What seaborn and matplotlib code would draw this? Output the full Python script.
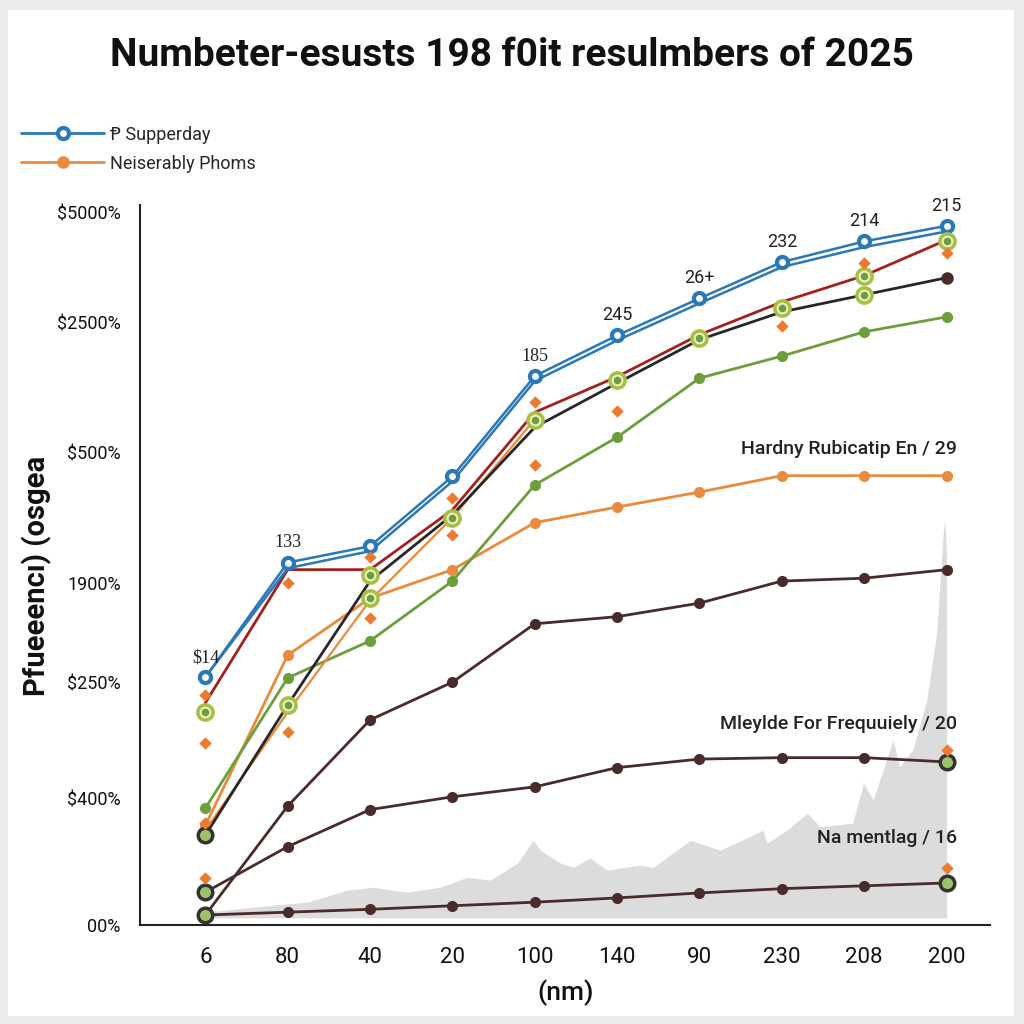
import matplotlib
matplotlib.use("Agg")
import matplotlib.pyplot as plt
import matplotlib.patches as mpatches
import numpy as np
import seaborn as sns

# categories on the x axis
x_labels = ["6", "80", "40", "20", "100", "140", "90", "230", "208", "200"]

# series values
supperday = [34.8, 50.9, 53.2, 63.0, 77.1, 82.8, 88.0, 93.1, 96.0, 98.2]
supperday_shadow = [34.8, 50.1, 52.5, 62.3, 76.4, 82.1, 87.3, 92.4, 95.2, 97.4]
neiserably = [14.0, 37.9, 45.9, 49.9, 56.5, 58.7, 60.8, 63.1, 63.1, 63.1]
orange_b = [13.3, 29.9, 45.6, 57.2, 71.0]
red_series = [31.2, 49.9, 49.9, 58.3, 72.0, 77.0, 82.9, 87.5, 91.2, 96.2]
black_series = [12.6, 30.9, 48.3, 57.6, 69.9, 76.1, 82.2, 86.1, 88.5, 90.9]
green_series = [16.4, 34.7, 39.9, 48.3, 61.8, 68.5, 76.8, 79.9, 83.3, 85.4]
brown_1 = [1.4, 16.7, 28.8, 34.1, 42.3, 43.3, 45.2, 48.3, 48.7, 49.9]
brown_2 = [4.6, 11.0, 16.2, 18.0, 19.4, 22.1, 23.3, 23.5, 23.5, 22.9]
brown_3 = [1.4, 1.8, 2.2, 2.7, 3.2, 3.8, 4.5, 5.1, 5.5, 5.9]

# value tags over the blue line
blue_tags = ["$14", "133", "185", "245", "26+", "232", "214", "215"]
blue_tag_idx = [0, 1, 4, 5, 6, 7, 8, 9]

# loose orange diamonds
diamond_x = [0, 0, 0, 0, 1, 1, 2, 2, 3, 3, 4, 4, 5, 7, 8, 9, 9, 9]
diamond_y = [32.3, 25.6, 14.3, 6.6, 48.0, 27.1, 43.1, 51.7, 60.0, 54.8, 73.5, 64.6,
             72.2, 84.1, 93.0, 94.4, 24.6, 8.0]

# ringed markers
ring_x = [0, 1, 2, 2, 3, 4, 5, 6, 7, 8, 8, 9]
ring_y = [29.9, 30.9, 49.2, 45.9, 57.2, 70.9, 76.5, 82.4, 86.7, 91.2, 88.5, 96.1]
dark_ring_x = [0, 0, 0, 9, 9]
dark_ring_y = [12.6, 4.6, 1.4, 22.9, 5.9]

# grey background area
gray_x = [0.0, 0.83, 1.24, 1.72, 2.04, 2.45, 2.85, 3.18, 3.46, 3.79, 3.98, 4.07, 4.31,
          4.47, 4.67, 4.88, 5.28, 5.44, 5.89, 6.25, 6.77, 6.82, 7.06, 7.31, 7.46, 7.86,
          7.99, 8.11, 8.35, 8.43, 8.59, 8.76, 8.88, 8.96, 8.98, 9.0]
gray_y = [1.8, 2.8, 3.2, 4.9, 5.3, 4.6, 5.3, 6.7, 6.3, 8.7, 11.9, 10.5, 8.7, 8.1, 9.4,
          7.7, 8.4, 8.1, 11.9, 10.5, 13.3, 11.5, 13.3, 15.7, 13.8, 14.3, 19.9, 17.6,
          26.0, 22.2, 24.6, 31.6, 41.0, 55.1, 56.9, 52.0]

# y axis labels
y_ticks = [100, 84.6, 66.3, 48.0, 34.0, 17.8, 0]
y_labels = ["$5000%", "$2500%", "$500%", "1900%", "$250%", "$400%", "00%"]

# right-hand notes
notes = ["Hardny Rubicatip En / 29", "Mleylde For Frequuiely / 20", "Na mentlag / 16"]
notes_y = [66.9, 28.2, 12.2]

sns.set_theme(style="white")
plt.rcParams["font.family"] = ["Roboto", "DejaVu Sans"]

BLUE = "#2a78b5"
ORANGE = "#ea8a3c"
RED = "#a3201f"
BLACK = "#2a2526"
GREEN = "#6c9e3c"
BROWN = "#4a2b2c"

fig = plt.figure(figsize=(10.24, 10.24), dpi=100, facecolor="#ebebeb")
fig.patches.append(mpatches.Rectangle((0.008, 0.008), 0.982, 0.982, transform=fig.transFigure,
                                      facecolor="white", edgecolor="none", zorder=-1))
ax = fig.add_axes([0.137, 0.0967, 0.83, 0.703])
ax.set_facecolor("none")

xs = np.arange(len(x_labels))

ax.fill_between(gray_x, 1.0, gray_y, color="#dcdcdc", lw=0, zorder=1)

kw = dict(ax=ax, legend=False, linewidth=2)
sns.lineplot(x=xs, y=brown_3, color=BROWN, marker="o", markersize=8, markeredgewidth=0, **kw)
sns.lineplot(x=xs, y=brown_2, color=BROWN, marker="o", markersize=8, markeredgewidth=0, **kw)
sns.lineplot(x=xs, y=brown_1, color=BROWN, marker="o", markersize=8, markeredgewidth=0, **kw)
sns.lineplot(x=xs, y=neiserably, color=ORANGE, marker="o", markersize=8, markeredgewidth=0, **kw)
sns.lineplot(x=xs, y=green_series, color=GREEN, marker="o", markersize=8, markeredgewidth=0, **kw)
sns.lineplot(x=xs[:len(orange_b)], y=orange_b, color=ORANGE, ax=ax, legend=False, linewidth=1.6)
sns.lineplot(x=xs, y=black_series, color=BLACK, ax=ax, legend=False, linewidth=2)
sns.lineplot(x=xs, y=red_series, color=RED, ax=ax, legend=False, linewidth=2)
ax.plot(xs[-1], black_series[-1], "o", color=BROWN, ms=8, zorder=4)
sns.lineplot(x=xs, y=supperday_shadow, color=BLUE, ax=ax, legend=False, linewidth=1.8)
sns.lineplot(x=xs, y=supperday, color=BLUE, marker="o", markersize=8, markerfacecolor="white",
             markeredgecolor=BLUE, markeredgewidth=3, ax=ax, legend=False, linewidth=1.8)

sns.scatterplot(x=ring_x, y=ring_y, ax=ax, s=120, color="#eef2c8", edgecolor="#a8bf45",
                linewidth=2.5, zorder=5, legend=False)
sns.scatterplot(x=ring_x, y=ring_y, ax=ax, s=30, color="#6c9e3c", linewidth=0,
                zorder=5, legend=False)
sns.scatterplot(x=dark_ring_x, y=dark_ring_y, ax=ax, s=110, color="#9cc26a", edgecolor="#333333",
                linewidth=2.5, zorder=5, legend=False)
sns.scatterplot(x=diamond_x, y=diamond_y, ax=ax, s=40, marker="D", color="#ec7a30",
                linewidth=0, zorder=6, legend=False)

for i, (tag, idx) in enumerate(zip(blue_tags, blue_tag_idx)):
    fam = ["Liberation Serif", "DejaVu Serif"] if i < 3 else ["Roboto", "DejaVu Sans"]
    ax.annotate(tag, (xs[idx], supperday[idx]), xytext=(0, 8), textcoords="offset points",
                ha="center", va="bottom", fontsize=13, family=fam, color="#222222")

for txt, yv in zip(notes, notes_y):
    ax.text(9.13, yv, txt, ha="right", va="center", fontsize=14, fontweight="medium",
            color="#222222")

ax.set_xlim(-0.79, 9.53)
ax.set_ylim(0, 101.1)
ax.set_xticks(xs)
ax.set_xticklabels(x_labels, fontsize=16)
ax.set_yticks(y_ticks)
ax.set_yticklabels(y_labels, fontsize=13)
ax.tick_params(axis="x", length=0, pad=16, colors="#111111")
ax.tick_params(axis="y", length=0, pad=14, colors="#111111")
for side in ["top", "right"]:
    ax.spines[side].set_visible(False)
for side in ["left", "bottom"]:
    ax.spines[side].set_color("#222222")
    ax.spines[side].set_linewidth(1.5)

ax.set_xlabel("(nm)", fontsize=19, labelpad=8, fontweight="medium", color="#111111")
ax.set_ylabel("")
fig.text(0.036, 0.438, "Pfueeencı) (osgea", rotation=90, ha="center", va="center",
         fontsize=21, fontweight="bold", color="#111111")

fig.text(0.5, 0.946, "Numbeter-esusts 198 f0it resulmbers of 2025", ha="center", va="center",
         fontsize=28, fontweight="bold", color="#111111")

# legend in the top-left corner
h_blue = plt.Line2D([], [], color=BLUE, lw=2, marker="o", ms=8, mfc="white", mec=BLUE, mew=3)
h_orange = plt.Line2D([], [], color=ORANGE, lw=2, marker="o", ms=8, mec=ORANGE)
fig.legend([h_blue, h_orange], ["Ᵽ Supperday", "Neiserably Phoms"], loc="upper left",
           bbox_to_anchor=(0.005, 0.893), frameon=False, fontsize=13, handlelength=4.6,
           handletextpad=0.3, labelspacing=0.6)

fig.savefig("out.png", dpi=100, facecolor=fig.get_facecolor())
